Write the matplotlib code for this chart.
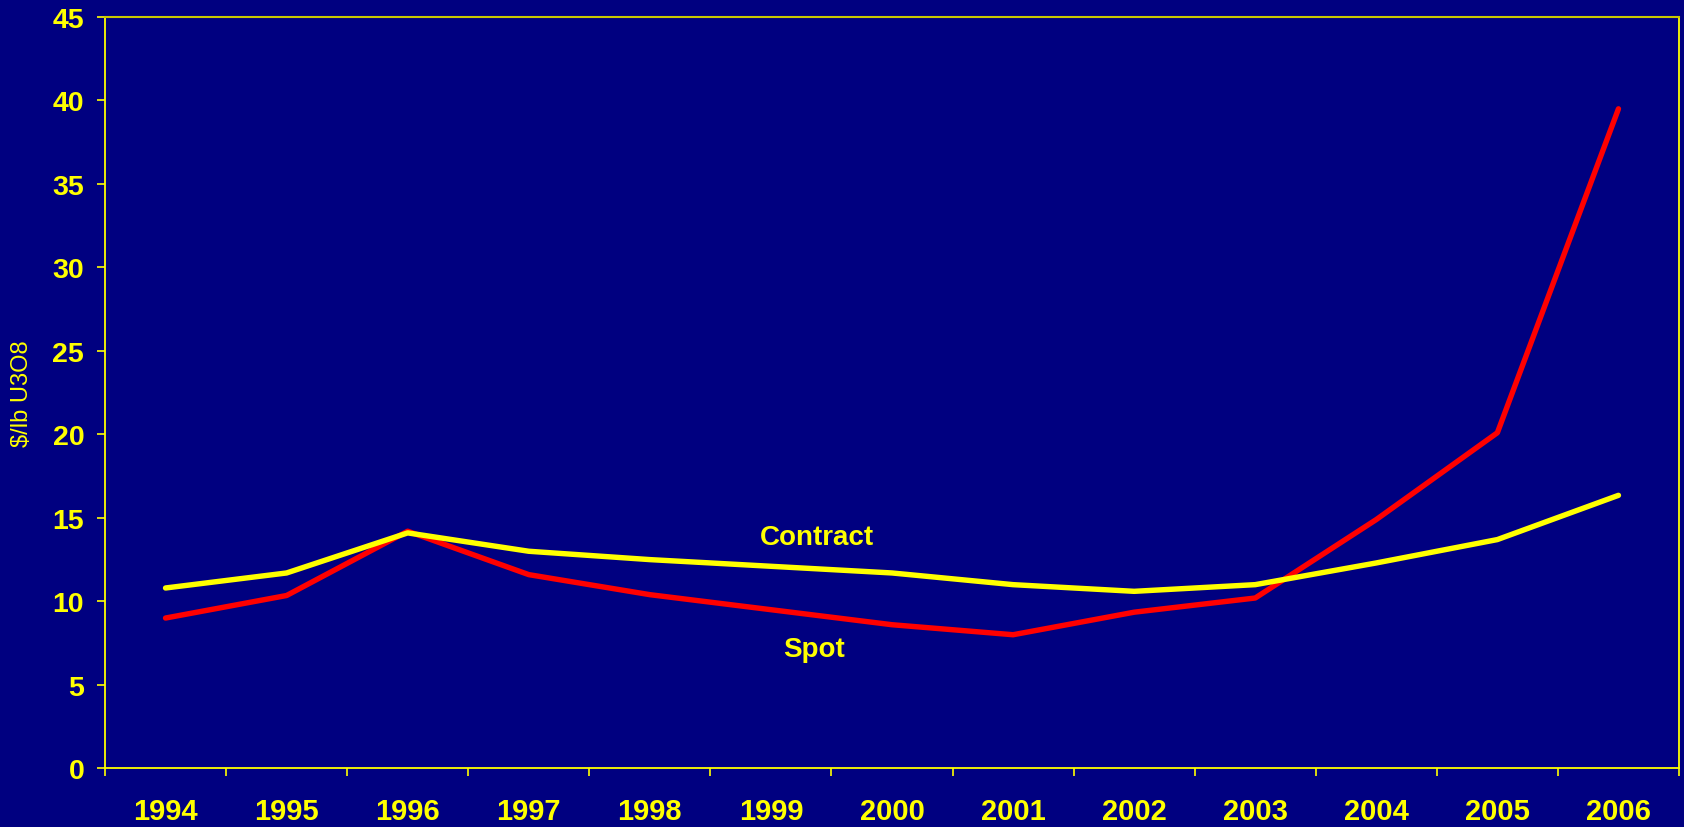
import matplotlib
matplotlib.use("Agg")
import matplotlib.pyplot as plt
import numpy as np

years = ["1994", "1995", "1996", "1997", "1998", "1999", "2000",
         "2001", "2002", "2003", "2004", "2005", "2006"]
contract = [10.8, 11.7, 14.1, 13.0, 12.5, 12.1, 11.7, 11.0, 10.6, 11.0, 12.3, 13.7, 16.35]
spot = [9.0, 10.35, 14.2, 11.6, 10.4, 9.5, 8.6, 8.0, 9.35, 10.2, 14.9, 20.1, 39.5]
y_ticks = [0, 5, 10, 15, 20, 25, 30, 35, 40, 45]

BG = "#000080"
YEL = "#FFFF00"
RED = "#FF0000"

plt.rcParams['font.family'] = ['Liberation Sans', 'DejaVu Sans']

fig = plt.figure(figsize=(16.84, 8.28), dpi=100, facecolor=BG)
ax = fig.add_axes([105/1684, 1 - 769.3/828, (1679 - 105)/1684, (769.3 - 18)/828])
ax.set_facecolor(BG)

x = np.arange(len(years))
ax.plot(x, spot, color=RED, lw=3.9, solid_capstyle='round', solid_joinstyle='round', zorder=3)
ax.plot(x, contract, color=YEL, lw=3.9, solid_capstyle='round', solid_joinstyle='round', zorder=4)

ax.set_xlim(-0.5, len(years) - 0.5)
ax.set_ylim(0, 45)
ax.set_yticks(y_ticks)
ax.set_yticklabels([str(v) for v in y_ticks], fontsize=20.5, fontweight='bold', color=YEL)

# category boundaries as major ticks, labels at centers as minor ticks
ax.set_xticks(np.arange(-0.5, len(years), 1.0))
ax.set_xticklabels([])
ax.set_xticks(x, minor=True)
ax.set_xticklabels(years, minor=True, fontsize=21, fontweight='bold', color=YEL)
ax.tick_params(axis='x', which='major', length=6, width=1.2, color=YEL, direction='out')
ax.tick_params(axis='x', which='minor', length=0, pad=21)
ax.tick_params(axis='y', which='major', length=6, width=1.2, color=YEL, direction='out', pad=9)

for s in ['left', 'bottom', 'right']:
    ax.spines[s].set_color(YEL)
    ax.spines[s].set_linewidth(1.3)
ax.spines['top'].set_color('#C8C800')
ax.spines['top'].set_linewidth(1.5)

ax.set_ylabel("$/lb U3O8", fontsize=17, color=YEL, labelpad=14)

ax.text(5.38, 13.85, "Contract", fontsize=20, fontweight='bold', color=YEL,
        ha='center', va='center')
ax.text(5.36, 7.15, "Spot", fontsize=20, fontweight='bold', color=YEL,
        ha='center', va='center')

fig.savefig("out.png", dpi=100, facecolor=BG)
